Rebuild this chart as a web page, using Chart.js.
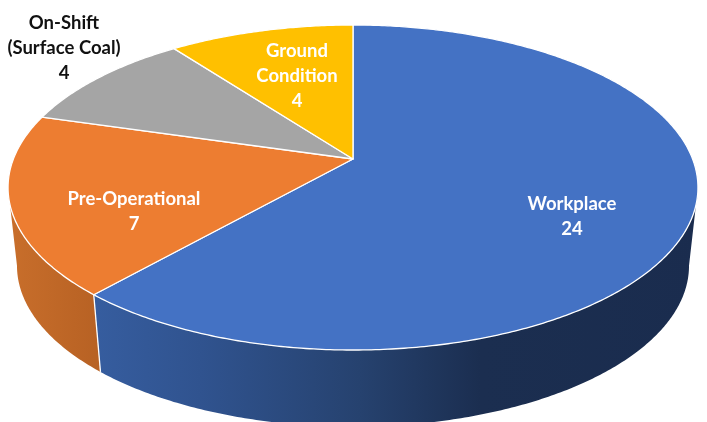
<!DOCTYPE html>
<html>
<head>
<meta charset="utf-8">
<title>Inspections by type</title>
<script src="https://cdn.jsdelivr.net/npm/chart.js@4"></script>
<style>
  html, body { margin: 0; padding: 0; background: #fff; }
  canvas { display: block; }
</style>
</head>
<body>
<canvas id="pie3d" width="707" height="422"></canvas>
<script>
const categories = ["Workplace", "Pre-Operational", ["On-Shift", "(Surface Coal)"], ["Ground", "Condition"]];
const counts = [24, 7, 4, 4];
const topColors = ["#4472C4", "#ED7D31", "#A5A5A5", "#FFC000"];
const labelColors = ["#fff", "#fff", "#111", "#fff"];
const labelCenters = [[572, 217], [134, 212], [64, 48], [297, 76]];

// perspective of the tilted disc, fitted to the reference
const top3d = { x: 353, y: 159, a: 339.6, b: 157.5, k: 0.1755 };
const bottom3d = { x: 353, y: 237.5, a: 330.8, b: 156, k: 0.1755 };

function project(plane, theta) {
  const u = Math.sin(theta), v = Math.cos(theta), w = 1 + plane.k * v;
  return [plane.x + plane.a * u / w, plane.y - plane.b * v / w];
}

function traceArc(ctx, plane, from, to) {
  const steps = Math.max(2, Math.ceil(Math.abs(to - from) / 0.01));
  for (let i = 0; i <= steps; i++) {
    const p = project(plane, from + (to - from) * i / steps);
    ctx.lineTo(p[0], p[1]);
  }
}

function wallGradient(ctx, stops) {
  const g = ctx.createLinearGradient(0, 0, 707, 0);
  stops.forEach(s => g.addColorStop(s[0] / 707, s[1]));
  return g;
}

const pie3dPlugin = {
  id: 'pie3d',
  beforeDatasetDraw(chart) {
    const ctx = chart.ctx;
    const arcs = chart.getDatasetMeta(0).data;
    const theta = a => a + Math.PI / 2;
    const rightEdge = Math.acos(-top3d.k);
    const leftEdge = 2 * Math.PI - rightEdge;

    // side walls, only the part facing the viewer
    const walls = [
      [[94, "#365d9f"], [200, "#30538f"], [360, "#26426f"], [480, "#1b2e50"], [707, "#1a2c4e"]],
      [[10, "#c86e2b"], [95, "#b86224"]]
    ];
    walls.forEach((stops, i) => {
      const from = Math.max(theta(arcs[i].startAngle), rightEdge);
      const to = Math.min(theta(arcs[i].endAngle), leftEdge);
      ctx.beginPath();
      traceArc(ctx, top3d, from, to);
      traceArc(ctx, bottom3d, to, from);
      ctx.closePath();
      ctx.fillStyle = wallGradient(ctx, stops);
      ctx.fill();
    });

    // white seam between the two walls
    const seamTop = project(top3d, theta(arcs[0].endAngle));
    const seamBottom = project(bottom3d, theta(arcs[0].endAngle));
    ctx.beginPath();
    ctx.moveTo(seamTop[0], seamTop[1]);
    ctx.lineTo(seamBottom[0], seamBottom[1]);
    ctx.strokeStyle = "#fff";
    ctx.lineWidth = 1.3;
    ctx.stroke();

    // top face
    arcs.forEach(arc => {
      ctx.beginPath();
      ctx.moveTo(top3d.x, top3d.y);
      traceArc(ctx, top3d, theta(arc.startAngle), theta(arc.endAngle));
      ctx.closePath();
      ctx.fillStyle = arc.options.backgroundColor;
      ctx.fill();
      ctx.strokeStyle = "#fff";
      ctx.lineWidth = 1.3;
      ctx.lineJoin = "round";
      ctx.stroke();
    });

    // labels
    ctx.font = "700 18.5px Lato";
    ctx.textAlign = "center";
    ctx.textBaseline = "middle";
    arcs.forEach((arc, i) => {
      const lines = [].concat(chart.data.labels[i], String(counts[i]));
      ctx.fillStyle = labelColors[i];
      lines.forEach((line, n) => {
        const y = labelCenters[i][1] + (n - (lines.length - 1) / 2) * 25;
        ctx.fillText(line, labelCenters[i][0], y);
      });
    });

    return false; // the flat arcs are replaced by the drawing above
  }
};

new Chart(document.getElementById('pie3d'), {
  type: 'pie',
  data: {
    labels: categories,
    datasets: [{ data: counts, backgroundColor: topColors }]
  },
  options: {
    responsive: false,
    animation: false,
    events: [],
    plugins: { legend: { display: false }, tooltip: { enabled: false } }
  },
  plugins: [pie3dPlugin]
});
</script>
</body>
</html>
